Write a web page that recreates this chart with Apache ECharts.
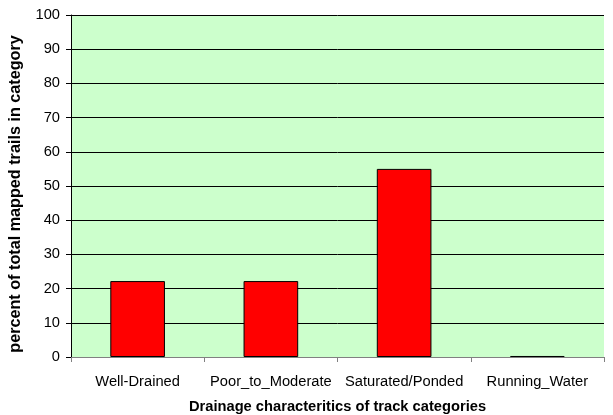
<!DOCTYPE html>
<html>
<head>
<meta charset="utf-8">
<script src="https://cdn.jsdelivr.net/npm/echarts@6/dist/echarts.min.js"></script>
<style>
  html, body { margin: 0; padding: 0; background: #fff; }
  #chart { width: 613px; height: 415px; }
</style>
</head>
<body>
<div id="chart"></div>
<script>
// Drainage categories and share of mapped trails (%)
var categories = ['Well-Drained', 'Poor_to_Moderate', 'Saturated/Ponded', 'Running_Water'];
var percentValues = [22.2, 22.2, 55.0, 0.3];
var yTicks = { min: 0, max: 100, interval: 10 };

var chart = echarts.init(document.getElementById('chart'));
chart.setOption({
  animation: false,
  textStyle: { fontFamily: 'Liberation Sans, Arial, sans-serif' },
  grid: {
    left: 71, right: 9, top: 15, bottom: 58,
    outerBoundsMode: 'none',
    containLabel: false,
    show: true, backgroundColor: '#CCFFCC', borderWidth: 0
  },
  xAxis: {
    type: 'category',
    data: categories,
    name: 'Drainage characteritics of track categories',
    nameLocation: 'middle',
    nameGap: 42,
    nameTextStyle: { fontSize: 14.7, fontWeight: 'bold', color: '#000' },
    axisLine: { lineStyle: { color: '#808080', width: 1 } },
    axisTick: { show: true, length: 5, alignWithLabel: false, lineStyle: { color: '#808080' } },
    axisLabel: { fontSize: 14.7, color: '#000', margin: 17, interval: 0 }
  },
  yAxis: {
    type: 'value',
    min: yTicks.min, max: yTicks.max, interval: yTicks.interval,
    name: 'percent of total mapped trails in category',
    nameLocation: 'middle',
    nameGap: 47,
    nameTextStyle: { fontSize: 16.2, fontWeight: 'bold', color: '#000', padding: [0, 16, 0, 0] },
    axisLine: { show: true, lineStyle: { color: '#000', width: 1 } },
    axisTick: { show: true, length: 5, lineStyle: { color: '#000' } },
    axisLabel: { fontSize: 14.7, color: '#000', margin: 11 },
    splitLine: { show: true, lineStyle: { color: '#000', width: 1 } }
  },
  series: [{
    type: 'bar',
    data: percentValues,
    barWidth: '41%',
    itemStyle: { color: '#FF0000', borderColor: '#000', borderWidth: 1 }
  }]
});
</script>
</body>
</html>
